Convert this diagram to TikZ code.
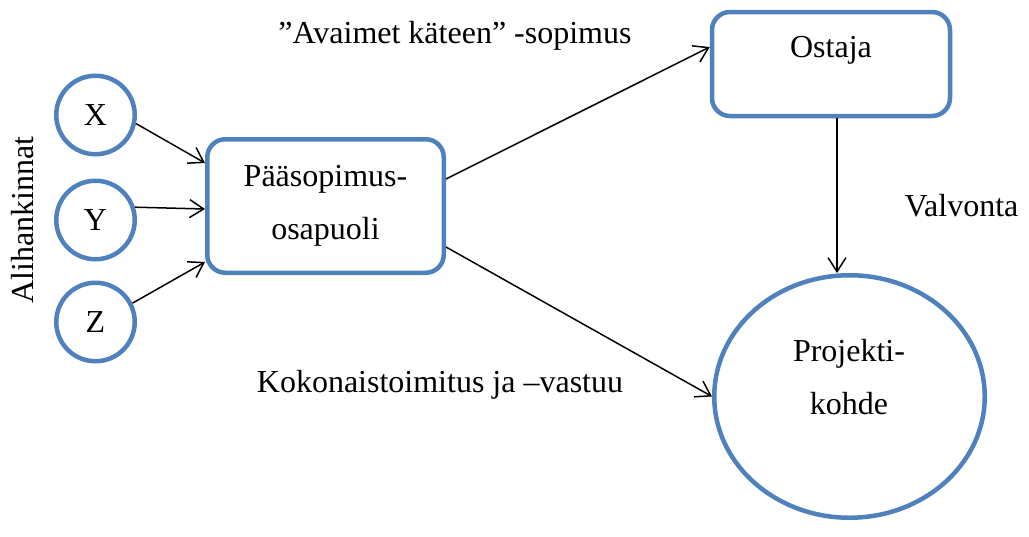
\documentclass[tikz,border=0pt]{standalone}
\usepackage{fontspec}
\setmainfont{Liberation Serif}
\usetikzlibrary{arrows.meta,shapes.geometric}
\definecolor{boxblue}{HTML}{4F81BD}
\begin{document}
\begin{tikzpicture}[x=1pt,y=-1pt,
  every node/.style={font=\fontsize{32}{53}\selectfont},
  blueline/.style={draw=boxblue,line width=4.5pt},
  circ/.style={blueline,circle,minimum size=78.5pt,inner sep=0pt},
  rbox/.style={blueline,rectangle,rounded corners=18pt,inner sep=0pt},
  conn/.style={draw=black,line width=1.5pt,-{Straight Barb[length=14pt,width=18pt]}},
  lbl/.style={anchor=base,inner sep=0pt}]
\useasboundingbox (0,0) rectangle (1029,536);
% subcontractors
\node[circ] (X) at (95.5,115) {X};
\node[circ] (Y) at (95.5,220) {Y};
\node[circ] (Z) at (95.5,322) {Z};
% main boxes
\node[rbox,minimum width=236.5pt,minimum height=133.5pt,align=center] (main) at (325.5,206) {Pääsopimus-\\osapuoli};
\node[rbox,minimum width=238pt,minimum height=104pt] (ost) at (831,64) {};
\node[lbl] (ostt) at (831,57) {Ostaja};
\node[blueline,ellipse,minimum width=270.5pt,minimum height=242.5pt,inner sep=0pt] (proj) at (849.5,396.5) {};
\node[align=center,inner sep=0pt] (projt) at (849,377) {Projekti-\\kohde};
% connectors
\draw[conn] (X.-12) -- ([yshift=43pt]main.west);
\draw[conn] (Y.18) -- ([yshift=-3pt]main.west);
\draw[conn] (Z.27) -- ([yshift=-56pt]main.west);
\draw[conn] ([yshift=27pt]main.east) -- ([yshift=17pt]ost.west);
\draw[conn] ([yshift=-41pt]main.east) -- (proj.west);
\draw[conn] ([xshift=6pt]ost.south) -- ([xshift=6pt]ost.south |- proj.north);
% labels
\node[lbl] (avaimet) at (455,43) {”Avaimet käteen” -sopimus};
\node[lbl] (koko) at (440,392) {Kokonaistoimitus ja –vastuu};
\node[lbl] (valv) at (961.5,216) {Valvonta};
\node[lbl,rotate=90] (ali) at (33,220) {Alihankinnat};
\end{tikzpicture}
\end{document}
